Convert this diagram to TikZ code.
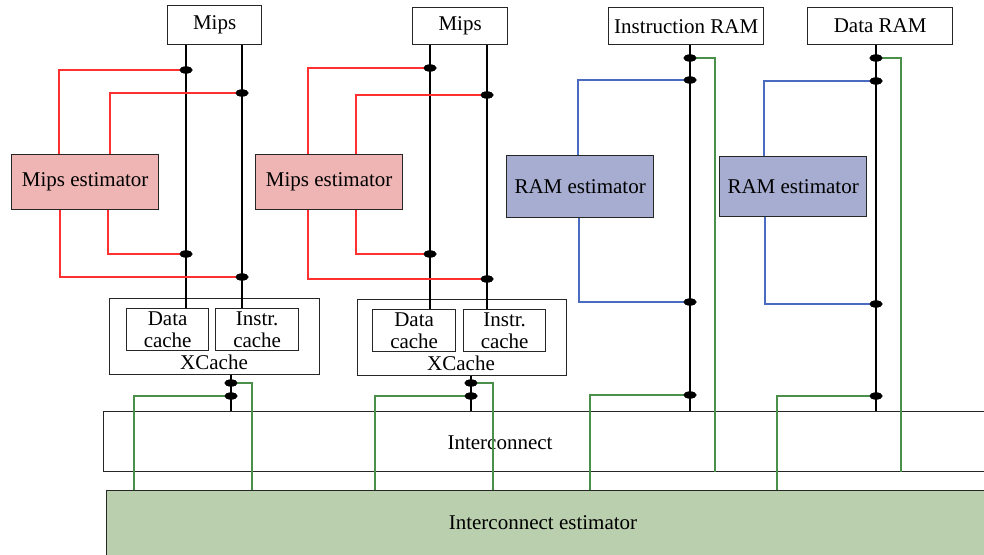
\documentclass[tikz,border=0pt]{standalone}
\usepackage{fontspec}
\setmainfont{Liberation Serif}
\usetikzlibrary{shapes.geometric}
\definecolor{redfill}{HTML}{EFB5B5}
\definecolor{redwire}{HTML}{FF3030}
\definecolor{bluefill}{HTML}{A6ADD0}
\definecolor{bluewire}{HTML}{4A6BBF}
\definecolor{greenfill}{HTML}{B9CFAE}
\definecolor{greenwire}{HTML}{4A904A}
\newcommand\lblfont{\fontsize{21}{22}\selectfont}
\begin{document}
\begin{tikzpicture}[x=1pt,y=-1pt,
  box/.style={draw=black!85, line width=1.3pt, rectangle, inner sep=0pt, anchor=north west, font=\lblfont, align=center, fill=white},
  lbl/.style={inner sep=0pt, font=\lblfont},
  wire/.style={black, line width=1.5pt},
  rwire/.style={redwire, line width=1.3pt},
  bwire/.style={bluewire, line width=1.3pt},
  gwire/.style={greenwire, line width=1.3pt},
  dot/.style={ellipse, fill=black, minimum width=13pt, minimum height=7pt, inner sep=0pt}]
\clip (0,0) rectangle (984,554);
\fill[white] (0,0) rectangle (984,554);
% boxes
\node[box, minimum width=94pt, minimum height=39pt] (mips1) at (167,5) {Mips};
\node[box, minimum width=95pt, minimum height=37pt] (mips2) at (412,7) {Mips};
\node[box, minimum width=155pt, minimum height=37pt] (iram) at (608,7) {Instruction RAM};
\node[box, minimum width=145pt, minimum height=37pt] (dram) at (807,7) {Data RAM};
\node[box, fill=redfill, minimum width=147pt, minimum height=55pt] (est1) at (11,154) {Mips estimator};
\node[box, fill=redfill, minimum width=147pt, minimum height=55pt] (est2) at (255,154) {Mips estimator};
\node[box, fill=bluefill, minimum width=147pt, minimum height=62pt] (rest1) at (506,155) {RAM estimator};
\node[box, fill=bluefill, minimum width=147pt, minimum height=60pt] (rest2) at (719,156) {RAM estimator};
\node[box, minimum width=210pt, minimum height=76pt] (xc1) at (109,298) {};
\node[box, minimum width=82pt, minimum height=42pt] (dc1) at (126,308) {Data\\cache};
\node[box, minimum width=83pt, minimum height=42pt] (ic1) at (215,308) {Instr.\\cache};
\node[lbl] (xc1l) at (214,362) {XCache};
\node[box, minimum width=209pt, minimum height=76pt] (xc2) at (357,299) {};
\node[box, minimum width=83pt, minimum height=42pt] (dc2) at (372,309) {Data\\cache};
\node[box, minimum width=82pt, minimum height=42pt] (ic2) at (463,309) {Instr.\\cache};
\node[lbl] (xc2l) at (461,363) {XCache};
\node[box, minimum width=900pt, minimum height=60pt] (inter) at (103,411) {};
\node[lbl] (interl) at (500,443) {Interconnect};
\node[box, fill=greenfill, minimum width=900pt, minimum height=70pt] (iest) at (106,490) {};
\node[lbl] (iestl) at (543,523) {Interconnect estimator};
% dots
\node[dot] (m1Lt) at (186,70) {};
\node[dot] (m1Lb) at (186,254) {};
\node[dot] (m1Rt) at (242,93) {};
\node[dot] (m1Rb) at (242,277) {};
\node[dot] (m2Lt) at (430,68) {};
\node[dot] (m2Lb) at (430,254) {};
\node[dot] (m2Rt) at (487,95) {};
\node[dot] (m2Rb) at (487,279) {};
\node[dot] (r1g1) at (690,58) {};
\node[dot] (r1b1) at (690,80) {};
\node[dot] (r1b2) at (690,302) {};
\node[dot] (r1g2) at (690,395) {};
\node[dot] (r2g1) at (876,58) {};
\node[dot] (r2b1) at (876,81) {};
\node[dot] (r2b2) at (876,304) {};
\node[dot] (r2g2) at (876,396) {};
\node[dot] (x1a) at (231,383) {};
\node[dot] (x1b) at (231,396) {};
\node[dot] (x2a) at (471,383) {};
\node[dot] (x2b) at (471,396) {};
% black wires
\draw[wire] (mips1.south -| m1Lt) -- (m1Lt |- dc1.north);
\draw[wire] (mips1.south -| m1Rt) -- (m1Rt |- ic1.north);
\draw[wire] (mips2.south -| m2Lt) -- (m2Lt |- dc2.north);
\draw[wire] (mips2.south -| m2Rt) -- (m2Rt |- ic2.north);
\draw[wire] (iram.south -| r1g1) -- (r1g1 |- inter.north);
\draw[wire] (dram.south -| r2g1) -- (r2g1 |- inter.north);
\draw[wire] (xc1.south -| x1a) -- (x1a |- inter.north);
\draw[wire] (xc2.south -| x2a) -- (x2a |- inter.north);
% red wires
\draw[rwire] (m1Lt.center) -| ([xshift=48pt]est1.north west);
\draw[rwire] (m1Rt.center) -| ([xshift=99pt]est1.north west);
\draw[rwire] ([xshift=97pt]est1.south west) |- (m1Lb.center);
\draw[rwire] ([xshift=49pt]est1.south west) |- (m1Rb.center);
\draw[rwire] (m2Lt.center) -| ([xshift=53pt]est2.north west);
\draw[rwire] (m2Rt.center) -| ([xshift=101pt]est2.north west);
\draw[rwire] ([xshift=101pt]est2.south west) |- (m2Lb.center);
\draw[rwire] ([xshift=53pt]est2.south west) |- (m2Rb.center);
% blue wires
\draw[bwire] (r1b1.center) -| ([xshift=72pt]rest1.north west);
\draw[bwire] ([xshift=73pt]rest1.south west) |- (r1b2.center);
\draw[bwire] (r2b1.center) -| ([xshift=45pt]rest2.north west);
\draw[bwire] ([xshift=46pt]rest2.south west) |- (r2b2.center);
% green wires
\draw[gwire] (r1g1.center) -| ([xshift=612pt]inter.south west);
\draw[gwire] (r2g1.center) -| ([xshift=798pt]inter.south west);
\draw[gwire] (r1g2.center) -| ([xshift=484pt]iest.north west);
\draw[gwire] (r2g2.center) -| ([xshift=671pt]iest.north west);
\draw[gwire] (x1a.center) -| ([xshift=146pt]iest.north west);
\draw[gwire] (x1b.center) -| ([xshift=28pt]iest.north west);
\draw[gwire] (x2a.center) -| ([xshift=387pt]iest.north west);
\draw[gwire] (x2b.center) -| ([xshift=269pt]iest.north west);
% redraw dots on top
\foreach \d in {m1Lt,m1Lb,m1Rt,m1Rb,m2Lt,m2Lb,m2Rt,m2Rb,r1g1,r1b1,r1b2,r1g2,r2g1,r2b1,r2b2,r2g2,x1a,x1b,x2a,x2b}
  \fill (\d.center) ellipse (6.5pt and 3.5pt);
\end{tikzpicture}
\end{document}
